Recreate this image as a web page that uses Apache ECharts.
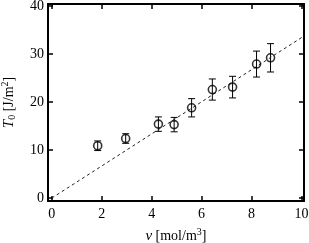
<!DOCTYPE html>
<html><head><meta charset="utf-8">
<script src="https://cdn.jsdelivr.net/npm/echarts@6/dist/echarts.min.js"></script>
<style>html,body{margin:0;padding:0;background:#fff}#c{width:309px;height:243px}</style>
</head><body><div id="c"></div>
<script>
const nu = [1.84, 2.96, 4.27, 4.9, 5.6, 6.43, 7.24, 8.2, 8.76];
const T0 = [10.9, 12.4, 15.4, 15.3, 18.8, 22.6, 23.1, 27.9, 29.2];
const T0err = [1.0, 1.0, 1.5, 1.5, 1.9, 2.2, 2.25, 2.7, 2.95];
const fitX = [0, 10.1];
const fitSlope = 3.34;
const xTicks = [0, 2, 4, 6, 8, 10];
const yTicks = [0, 10, 20, 30, 40];

const font = '"Liberation Serif", "Times New Roman", serif';
const chart = echarts.init(document.getElementById('c'));
const pts = nu.map((x, i) => [x, T0[i], T0err[i]]);
const fit = fitX.map(x => [x, fitSlope * x]);
const axisBase = (pos, ticks, min, max, showLabel) => ({
  type: 'value', position: pos, min: min, max: max,
  axisLine: {show: true, onZero: false, lineStyle: {color: '#000', width: 2}},
  axisTick: {show: true, inside: true, length: 5, customValues: ticks, lineStyle: {color: '#000', width: 1.5}},
  axisLabel: {show: showLabel, customValues: ticks, color: '#000', fontFamily: font, fontSize: 14, margin: 6},
  splitLine: {show: false}
});
const rich = {
  i: {fontFamily: font, fontStyle: 'italic', fontSize: 15, color: '#000', lineHeight: 20, verticalAlign: 'middle'},
  n: {fontFamily: font, fontSize: 14, color: '#000', lineHeight: 20, verticalAlign: 'middle'},
  sub: {fontFamily: font, fontSize: 10, color: '#000', lineHeight: 20, verticalAlign: 'bottom', padding: [0, 0, 2, 0]},
  sup: {fontFamily: font, fontSize: 10, color: '#000', lineHeight: 20, verticalAlign: 'top', padding: [1, 0, 0, 0]}
};
const xb = axisBase('bottom', xTicks, -0.15, 10.1, true);
xb.name = '{i|ν} {n|[mol/m}{sup|3}{n|]}';
xb.nameLocation = 'middle';
xb.nameGap = 24;
xb.nameTextStyle = {rich: rich};
const xt = axisBase('top', xTicks, -0.15, 10.1, false);
const yl = axisBase('left', yTicks, -0.6, 40.4, true);
yl.name = '{i|T}{sub|0}{n| [J/m}{sup|2}{n|]}';
yl.nameLocation = 'middle';
yl.nameRotate = 90;
yl.nameGap = 21;
yl.nameTextStyle = {rich: rich};
yl.axisLabel.margin = 4;
const yr = axisBase('right', yTicks, -0.6, 40.4, false);

chart.setOption({
  animation: false,
  grid: {left: 48, top: 4, width: 256, height: 197, containLabel: false, outerBoundsMode: 'none'},
  xAxis: [xb, xt],
  yAxis: [yl, yr],
  series: [
    {type: 'line', data: fit, symbol: 'none', lineStyle: {color: '#222', width: 1, type: [3, 3]}, silent: true},
    {type: 'custom', data: pts, renderItem: function (params, api) {
      const x = api.value(0), y = api.value(1), e = api.value(2);
      const hi = api.coord([x, y + e]), lo = api.coord([x, y - e]);
      const w = 3.5;
      const st = {stroke: '#000', lineWidth: 1};
      return {type: 'group', children: [
        {type: 'line', shape: {x1: hi[0], y1: hi[1], x2: lo[0], y2: lo[1]}, style: st},
        {type: 'line', shape: {x1: hi[0] - w, y1: hi[1], x2: hi[0] + w, y2: hi[1]}, style: st},
        {type: 'line', shape: {x1: lo[0] - w, y1: lo[1], x2: lo[0] + w, y2: lo[1]}, style: st}
      ]};
    }},
    {type: 'scatter', data: pts.map(p => [p[0], p[1]]), symbol: 'circle', symbolSize: 8,
      itemStyle: {color: 'rgba(0,0,0,0)', borderColor: '#000', borderWidth: 1.6}, z: 5}
  ]
});
</script></body></html>
